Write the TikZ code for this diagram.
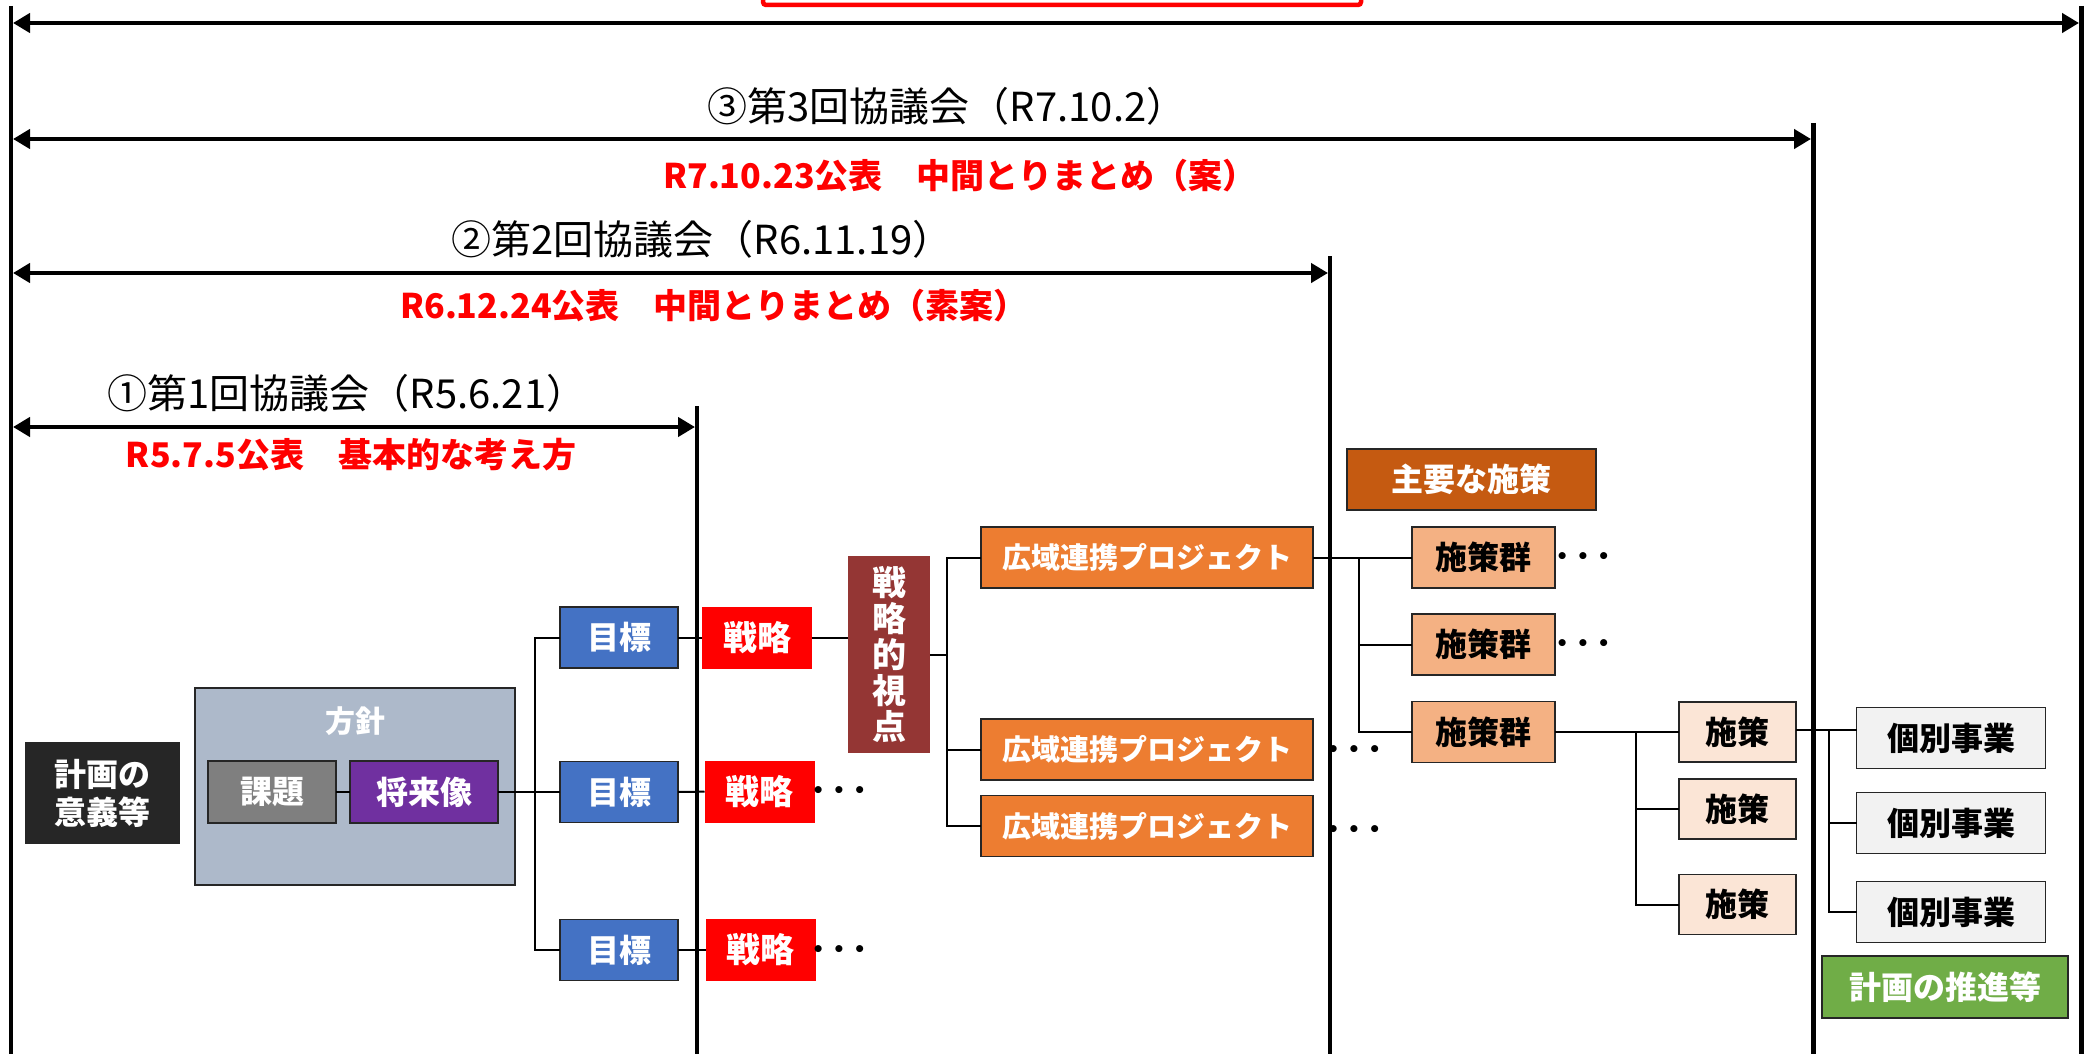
\documentclass[tikz,border=0pt]{standalone}
\usepackage{fontspec}
\setmainfont{Noto Sans CJK JP}
\newfontfamily\dotfont{DejaVu Sans}
\usetikzlibrary{arrows.meta,calc}
\definecolor{cyigi}{HTML}{262626}
\definecolor{choshin}{HTML}{ADB9CA}
\definecolor{ckadai}{HTML}{7F7F7F}
\definecolor{cshorai}{HTML}{7030A0}
\definecolor{cmoku}{HTML}{4472C4}
\definecolor{csen}{HTML}{FF0000}
\definecolor{cshiten}{HTML}{943634}
\definecolor{ckouiki}{HTML}{ED7D31}
\definecolor{cshuyo}{HTML}{C55A11}
\definecolor{csg}{HTML}{F4B183}
\definecolor{cshisaku}{HTML}{FBE5D6}
\definecolor{ckobetsu}{HTML}{F2F2F2}
\definecolor{csuishin}{HTML}{70AD47}
\definecolor{cborder}{HTML}{262626}
\newcommand{\threedots}{•\hspace{8pt}•\hspace{8pt}•}
\begin{document}
\begin{tikzpicture}[x=1pt,y=-1pt,
  bx/.style={rectangle, inner sep=0pt, outer sep=0pt, draw=cborder, line width=1.5pt,
    font=\bfseries\fontsize{32}{38}\selectfont, align=center},
  wbx/.style={bx, text=white},
  kbx/.style={bx, text=black},
  vline/.style={line width=4.5pt, black},
  arr/.style={line width=4.5pt, black, {Triangle[length=17pt,width=19pt]}-{Triangle[length=17pt,width=19pt]}},
  conn/.style={line width=2pt, black},
  head/.style={font=\fontsize{40}{44}\selectfont, inner sep=0pt},
  redlab/.style={font=\bfseries\fontsize{34}{38}\selectfont, text=csen, inner sep=0pt},
  dots/.style={font=\dotfont\bfseries\fontsize{20}{24}\selectfont, inner sep=0pt},
]
\useasboundingbox (0,0) rectangle (2091,1054);
\clip (0,0) rectangle (2091,1054);

% top red box (cut off)
\draw[csen, line width=4.5pt, rounded corners=3pt] (763,-40) rectangle (1361,5);

% big vertical lines
\coordinate (L0t) at (11,6);      \coordinate (L0b) at (11,1060);
\coordinate (L1t) at (697,406);   \coordinate (L1b) at (697,1060);
\coordinate (L2t) at (1330,256);  \coordinate (L2b) at (1330,1060);
\coordinate (L3t) at (1813.5,123);\coordinate (L3b) at (1813.5,1060);
\coordinate (L4t) at (2081.5,6);  \coordinate (L4b) at (2081.5,1060);
\foreach \l in {L0,L1,L2,L3,L4} \draw[vline] (\l t) -- (\l b);

% span arrows
\coordinate (A0a) at (13,23);   \coordinate (A0b) at (2079,23);
\coordinate (A3a) at (13,139);  \coordinate (A3b) at (1811,139);
\coordinate (A2a) at (13,273);  \coordinate (A2b) at (1328,273);
\coordinate (A1a) at (13,427);  \coordinate (A1b) at (695,427);
\foreach \a in {A0,A3,A2,A1} \draw[arr] (\a a) -- (\a b);

% headings
\node[head] (h3) at (947,106) {③第3回協議会（R7.10.2）};
\node[redlab] (r3) at (960,176) {R7.10.23公表　中間とりまとめ（案）};
\node[head] (h2) at (702,239) {②第2回協議会（R6.11.19）};
\node[redlab] (r2) at (714,306) {R6.12.24公表　中間とりまとめ（素案）};
\node[head] (h1) at (347,393) {①第1回協議会（R5.6.21）};
\node[redlab] (r1) at (351,455) {R5.7.5公表　基本的な考え方};

% left part
\node[wbx, fill=cyigi, minimum width=153pt, minimum height=100pt] (yigi) at (102.5,793) {計画の\\意義等};
\node[bx, fill=choshin, minimum width=320pt, minimum height=197pt] (hoshin) at (355,786.5) {};
\node[text=white, font=\bfseries\fontsize{30}{34}\selectfont, inner sep=0pt] (hoshinlab) at (355,721) {方針};
\node[wbx, fill=ckadai, minimum width=128pt, minimum height=62pt] (kadai) at (272,792) {課題};
\node[wbx, fill=cshorai, minimum width=148pt, minimum height=62pt] (shorai) at (424,792) {将来像};
\draw[conn] (kadai.east) -- (shorai.west);

% goals
\node[wbx, fill=cmoku, minimum width=118pt, minimum height=61pt] (m1) at (619,637.5) {目標};
\node[wbx, fill=cmoku, minimum width=118pt, minimum height=61pt] (m2) at (619,792) {目標};
\node[wbx, fill=cmoku, minimum width=118pt, minimum height=61pt] (m3) at (619,950) {目標};
\coordinate (b1) at (535,792);
\draw[conn] (shorai.east) -- (b1);
\draw[conn] (m1.west) -- (m1.west -| b1) |- (m3.west);
\draw[conn] (m2.west) -- (m2.west -| b1);

% strategies
\node[wbx, draw=none, fill=csen, font=\bfseries\fontsize{34}{38}\selectfont, minimum width=110pt, minimum height=62pt] (s1) at (757,637.5) {戦略};
\node[wbx, draw=none, fill=csen, font=\bfseries\fontsize{34}{38}\selectfont, minimum width=110pt, minimum height=62pt] (s2) at (759.5,791.6) {戦略};
\node[wbx, draw=none, fill=csen, font=\bfseries\fontsize{34}{38}\selectfont, minimum width=110pt, minimum height=62pt] (s3) at (760.5,950) {戦略};
\draw[conn] (m1.east) -- (s1.west);
\draw[conn] (m2.east) -- (s2.west);
\draw[conn] (m3.east) -- (s3.west);
\node[dots] (d1) at (839,792) {\threedots};
\node[dots] (d2) at (839,951) {\threedots};

% strategic viewpoint
\node[wbx, draw=none, fill=cshiten, font=\bfseries\fontsize{34}{36}\selectfont, minimum width=82pt, minimum height=197pt] (shiten) at (889,654.5) {戦\\略\\的\\視\\点};
\draw[conn] (s1.east) -- (s1.east -| shiten.west);

% projects
\node[wbx, fill=ckouiki, font=\bfseries\fontsize{29}{34}\selectfont, minimum width=332pt, minimum height=61pt] (k1) at (1147,557.5) {広域連携プロジェクト};
\node[wbx, fill=ckouiki, font=\bfseries\fontsize{29}{34}\selectfont, minimum width=332pt, minimum height=61pt] (k2) at (1147,749.5) {広域連携プロジェクト};
\node[wbx, fill=ckouiki, font=\bfseries\fontsize{29}{34}\selectfont, minimum width=332pt, minimum height=61pt] (k3) at (1147,826) {広域連携プロジェクト};
\coordinate (b2) at (946.5,654.5);
\draw[conn] (shiten.east) -- (b2);
\draw[conn] (k1.west) -- (k1.west -| b2) |- (k3.west);
\draw[conn] (k2.west) -- (k2.west -| b2);
\node[dots] (d3) at (1354,751) {\threedots};
\node[dots] (d4) at (1354,831) {\threedots};

% main measures
\node[wbx, fill=cshuyo, minimum width=249pt, minimum height=61pt] (shuyo) at (1471.5,479.5) {主要な施策};
\node[kbx, fill=csg, minimum width=143pt, minimum height=61pt] (g1) at (1483.5,557.5) {施策群};
\node[kbx, fill=csg, minimum width=143pt, minimum height=61pt] (g2) at (1483.5,644.5) {施策群};
\node[kbx, fill=csg, minimum width=143pt, minimum height=61pt] (g3) at (1483.5,732) {施策群};
\coordinate (b3) at (1359,557.5);
\draw[conn] (k1.east) -- (g1.west);
\draw[conn] (b3) |- (g3.west);
\draw[conn] (g2.west) -- (g2.west -| b3);
\node[dots] (d5) at (1583,558) {\threedots};
\node[dots] (d6) at (1583,645) {\threedots};

% measures
\node[kbx, fill=cshisaku, minimum width=117pt, minimum height=60pt] (p1) at (1737.5,732) {施策};
\node[kbx, fill=cshisaku, minimum width=117pt, minimum height=60pt] (p2) at (1737.5,809) {施策};
\node[kbx, fill=cshisaku, minimum width=117pt, minimum height=60pt] (p3) at (1737.5,904.5) {施策};
\coordinate (b4) at (1635.5,732);
\draw[conn] (g3.east) -- (p1.west);
\draw[conn] (b4) |- (p3.west);
\draw[conn] (p2.west) -- (p2.west -| b4);

% individual projects
\node[kbx, fill=ckobetsu, minimum width=189pt, minimum height=61pt] (q1) at (1951,738) {個別事業};
\node[kbx, fill=ckobetsu, minimum width=189pt, minimum height=61pt] (q2) at (1951,823) {個別事業};
\node[kbx, fill=ckobetsu, minimum width=189pt, minimum height=61pt] (q3) at (1951,912) {個別事業};
\coordinate (b5) at (1829,730);
\draw[conn] (p1.east |- b5) -- (b5 -| q1.west);
\draw[conn] (b5) |- (q3.west);
\draw[conn] (q2.west) -- (q2.west -| b5);

\node[wbx, fill=csuishin, minimum width=246pt, minimum height=62pt] (suishin) at (1945,987) {計画の推進等};
\end{tikzpicture}
\end{document}
